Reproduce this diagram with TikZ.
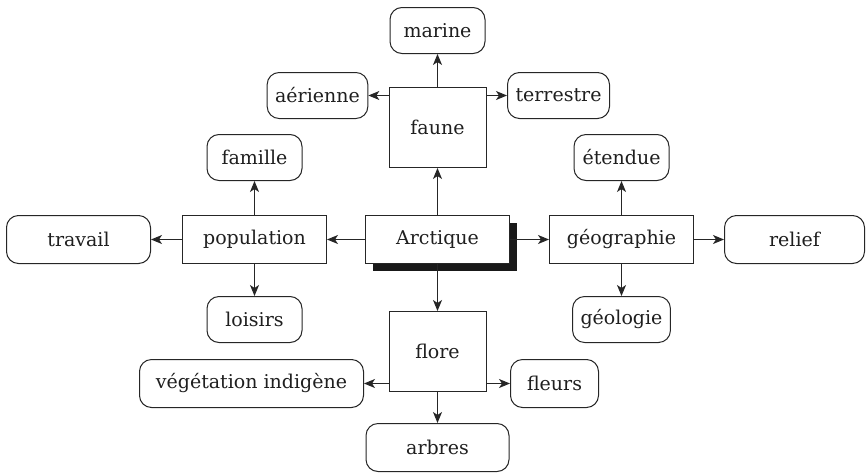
\documentclass[tikz,border=0pt]{standalone}
\usepackage{fontspec}
\setmainfont{DejaVu Serif}
\usetikzlibrary{arrows.meta,shadows}
\begin{document}
\begin{tikzpicture}[x=1pt,y=-1pt,
  every node/.style={font=\fontsize{19}{22}\selectfont, text=black!88},
  box/.style={draw=black!85, line width=1pt, fill=white, minimum width=144, minimum height=48, inner sep=0pt},
  sqbox/.style={box, minimum width=97, minimum height=80},
  leaf/.style={draw=black!85, line width=1pt, fill=white, rounded corners=12pt, minimum width=95, minimum height=46, inner xsep=8pt, inner ysep=0pt},
  arr/.style={draw=black!85, line width=1pt, -{Stealth[length=11pt,width=9pt,inset=3pt]}},
  hub/.style={box, general shadow={shadow xshift=7pt, shadow yshift=-7pt, fill=black!90, opacity=1}}
]
\useasboundingbox (0,0) rectangle (866,474);

\begin{scope}[shift={(0.5,0.5)}]
% central topic and its four branches
\node[hub]   (arc)   at (437,239) {Arctique};
\node[sqbox] (faune) at (437,127) {faune};
\node[sqbox] (flore) at (437,351) {flore};
\node[box]   (pop)   at (254,239) {population};
\node[box]   (geo)   at (621,239) {géographie};

% leaves of faune
\node[leaf] (marine) at (437,30) {marine};
\node[leaf] (aer)    at (317,95) {aérienne};
\node[leaf] (ter)    at (558,95) {terrestre};

% leaves of population
\node[leaf] (fam)  at (254,157) {famille};
\node[leaf] (lois) at (254,319) {loisirs};
\node[leaf, minimum width=144, minimum height=48] (trav) at (78,239) {travail};

% leaves of géographie
\node[leaf] (eten) at (621,157) {étendue};
\node[leaf] (geol) at (621,319) {géologie};
\node[leaf, minimum width=140, minimum height=48] (rel) at (794,239) {relief};

% leaves of flore
\node[leaf, minimum width=224, minimum height=48] (veg) at (251,383) {végétation indigène};
\node[leaf, minimum width=88, minimum height=48] (fleurs) at (554,383) {fleurs};
\node[leaf, minimum width=143, minimum height=48] (arbres) at (437,447) {arbres};

% connectors
\draw[arr] (arc) -- (faune);
\draw[arr] (arc) -- (flore);
\draw[arr] (arc) -- (pop);
\draw[arr] (arc) -- (geo);

\draw[arr] (faune) -- (marine);
\draw[arr] (faune.west |- aer.east) -- (aer.east);
\draw[arr] (faune.east |- ter.west) -- (ter.west);

\draw[arr] (pop) -- (fam);
\draw[arr] (pop) -- (lois);
\draw[arr] (pop) -- (trav);

\draw[arr] (geo) -- (eten);
\draw[arr] (geo) -- (geol);
\draw[arr] (geo) -- (rel);

\draw[arr] (flore.west |- veg.east) -- (veg.east);
\draw[arr] (flore.east |- fleurs.west) -- (fleurs.west);
\draw[arr] (flore) -- (arbres);
\end{scope}
\end{tikzpicture}
\end{document}
